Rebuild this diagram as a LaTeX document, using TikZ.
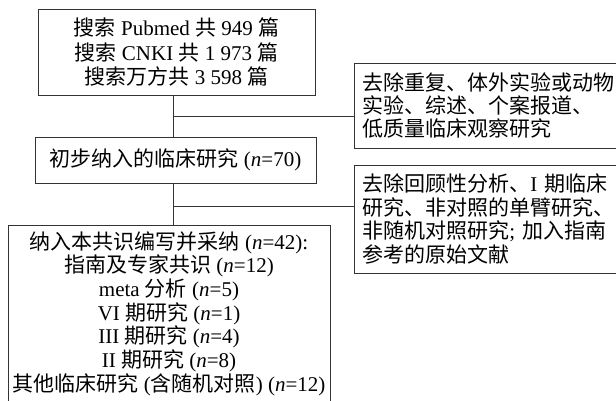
\documentclass[tikz,border=0pt]{standalone}
\usepackage{fontspec}
\setmainfont{Liberation Serif}
\newfontfamily\cjk{Noto Sans CJK SC}
\newcommand{\zh}[1]{{\cjk #1}}
\begin{document}
\begin{tikzpicture}[x=1pt,y=-1pt,
  box/.style={draw=black!80, line width=0.9pt, inner sep=0pt, align=center},
  sidebox/.style={draw=black!80, line width=0.9pt, inner ysep=0pt, inner xsep=8pt, align=left, text width=252pt, anchor=west},
  link/.style={draw=black!80, line width=0.9pt}]
\useasboundingbox (0,0) rectangle (616,401);
\node[box, minimum width=277pt, minimum height=86pt, font=\fontsize{21}{24.5}\selectfont] (s) at (176.5,52)
  {\zh{搜索} Pubmed \zh{共} 949 \zh{篇}\\ \zh{搜索} CNKI \zh{共} 1~973 \zh{篇}\\ \zh{搜索万方共} 3~598 \zh{篇}};
\node[box, minimum width=281pt, minimum height=46pt, font=\fontsize{21}{24}\selectfont] (p) at (175.5,160)
  {\zh{初步纳入的临床研究} (\textit{n}=70)};
\node[box, minimum width=322pt, minimum height=177pt, font=\fontsize{21}{23.7}\selectfont] (f) at (169,313.5)
  {\zh{纳入本共识编写并采纳} (\textit{n}=42):\\
   \zh{指南及专家共识} (\textit{n}=12)\\
   meta \zh{分析} (\textit{n}=5)\\
   VI \zh{期研究} (\textit{n}=1)\\
   III \zh{期研究} (\textit{n}=4)\\
   II \zh{期研究} (\textit{n}=8)\\
   \zh{其他临床研究} (\zh{含随机对照}) (\textit{n}=12)};
\node[sidebox, minimum height=85pt, font=\fontsize{21}{23}\selectfont] (e1) at (354,105.5)
  {\zh{去除重复、体外实验或动物}\\ \zh{实验、综述、个案报道、}\\ \zh{低质量临床观察研究}};
\node[sidebox, minimum height=108pt, font=\fontsize{21}{23.7}\selectfont] (e2) at (354,219)
  {\zh{去除回顾性分析、}I \zh{期临床}\\ \zh{研究、非对照的单臂研究、}\\ \zh{非随机对照研究}; \zh{加入指南}\\ \zh{参考的原始文献}};
\coordinate (sp) at (173,0);
\draw[link] (s.south -| sp) -- (p.north -| sp);
\draw[link] (p.south -| sp) -- (f.north -| sp);
\coordinate (j1) at (173,116);
\draw[link] (j1) -- (j1 -| e1.west);
\coordinate (j2) at (173,206);
\draw[link] (j2) -- (j2 -| e2.west);
\end{tikzpicture}
\end{document}
